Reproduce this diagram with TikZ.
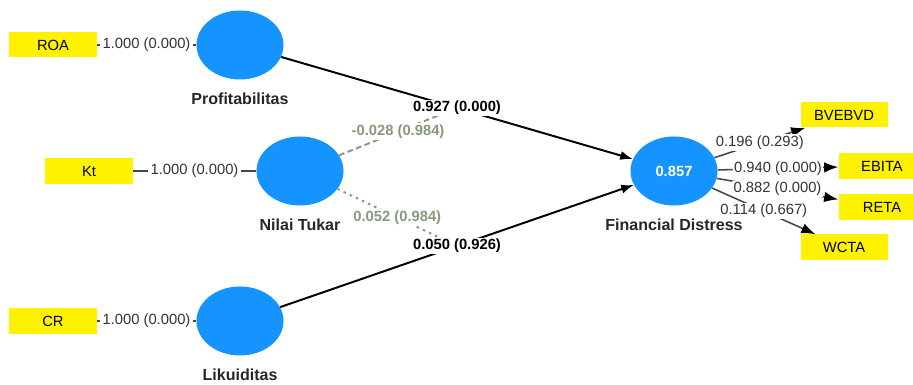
\documentclass[tikz,border=0pt]{standalone}
\usepackage{fontspec}
\setmainfont{Liberation Sans}
\usetikzlibrary{shapes.geometric,positioning,arrows.meta}
\definecolor{lvblue}{RGB}{21,147,255}
\definecolor{modgray}{RGB}{136,153,126}
\definecolor{indgray}{RGB}{70,70,70}
\tikzset{
	lv/.style={ellipse, fill=lvblue, minimum width=2.175cm, minimum height=1.725cm, inner sep=0pt},
	mv/.style={fill=yellow, minimum width=2.175cm, minimum height=0.625cm, inner sep=0pt, font=\fontsize{10.5}{12}\selectfont},
	lvname/.style={inner sep=0pt, text=black!85, font=\bfseries\fontsize{11.4}{13}\selectfont},
	coef/.style={fill=white, inner sep=2pt, text=black!80, font=\fontsize{10.5}{12}\selectfont},
	pathcoef/.style={coef, inner sep=1pt, text=black, font=\bfseries\fontsize{10.5}{12}\selectfont},
	modcoef/.style={coef, inner sep=1pt, text=modgray, font=\bfseries\fontsize{10.5}{12}\selectfont},
	modline/.style={modgray, line width=1.4pt}
}
\begin{document}
\begin{tikzpicture}[x=0.025cm, y=-0.025cm, >={Latex[length=9pt,width=6.5pt]}, line join=round]
	\clip (0,0) rectangle (913,385);
	% latent variables
	\path
	(240,45) node[lv] (prof) {}
	(300,171) node[lv] (nt) {}
	(240,321) node[lv] (likuid) {}
	(674,171) node[lv, text=white, font=\bfseries\fontsize{10.5}{12}\selectfont] (fd) {0.857};
	% indicators
	\path
	(53,45) node[mv] (roa) {ROA}
	(89,171) node[mv] (kt) {Kt}
	(53,321) node[mv] (cr) {CR}
	(844,115) node[mv] (bvebvd) {BVEBVD}
	(882,166) node[mv] (ebita) {EBITA}
	(882,207) node[mv] (reta) {RETA}
	(844,247) node[mv] (wcta) {WCTA};
	\foreach \a/\b in {roa/prof, kt/nt, cr/likuid}
	\draw[indgray, line width=1pt] (\a) -- (\b) node[coef, midway] {1.000 (0.000)};
	% moderating effects
	\path
	(prof) -- (fd) coordinate[midway] (m1)
	(likuid) -- (fd) coordinate[midway] (m2);
	\draw[modline, dash pattern=on 4pt off 2.5pt] (nt) -- (m1) node[modcoef, midway] {-0.028 (0.984)};
	\draw[modline, dash pattern=on 1.8pt off 3pt] (nt) -- (m2) node[modcoef, midway] {0.052 (0.984)};
	% structural paths
	\draw[->, line width=1.4pt] (prof) -- (fd) node[pathcoef, midway] {0.927 (0.000)};
	\draw[->, line width=1.4pt] (likuid) -- (fd) node[pathcoef, midway] {0.050 (0.926)};
	\foreach \m/\t in {bvebvd/0.196 (0.293), ebita/0.940 (0.000), reta/0.882 (0.000), wcta/0.114 (0.667)}
	\draw[-{Latex[length=10pt,width=7.5pt,color=black]}, indgray, line width=1.1pt] (fd) -- (\m) node[coef, inner sep=1pt, midway] {\t};
	\foreach \n/\t in {prof/Profitabilitas, nt/Nilai Tukar, likuid/Likuiditas, fd/Financial Distress}
	\node[lvname, below=0.33cm of \n] (\n-name) {\t};
\end{tikzpicture}
\end{document}
